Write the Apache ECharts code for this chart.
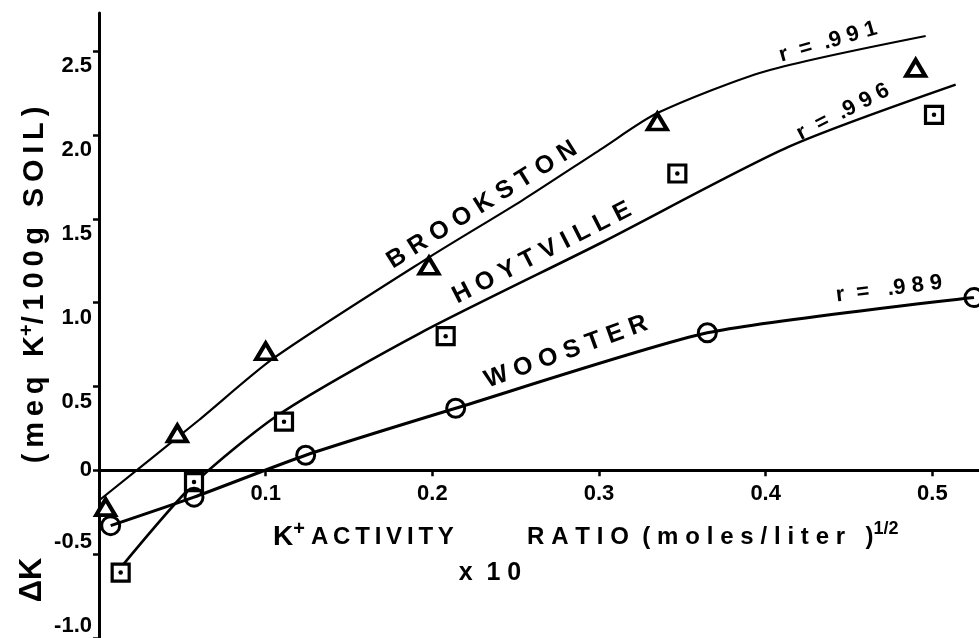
<!DOCTYPE html>
<html>
<head>
<meta charset="utf-8">
<script src="https://cdn.jsdelivr.net/npm/echarts@6/dist/echarts.min.js"></script>
<style>
    html, body { margin: 0; padding: 0; background: #fff; }
    #chart { width: 979px; height: 638px; }
</style>
</head>
<body>
<div id="chart"></div>
<script>
const brookstonX = [0.004, 0.047, 0.100, 0.198, 0.335, 0.490];
const brookstonY = [-0.22, 0.22, 0.71, 1.22, 2.08, 2.40];
const hoytvilleX = [0.013, 0.057, 0.111, 0.208, 0.347, 0.501];
const hoytvilleY = [-0.61, -0.07, 0.29, 0.80, 1.77, 2.12];
const woosterX = [0.007, 0.057, 0.124, 0.214, 0.365, 0.525];
const woosterY = [-0.33, -0.16, 0.09, 0.37, 0.82, 1.03];

// Fitted curves
const brookstonFitX = [0.0, 0.06, 0.105, 0.198, 0.254, 0.302, 0.335, 0.40, 0.496];
const brookstonFitY = [-0.18, 0.30, 0.67, 1.27, 1.61, 1.92, 2.13, 2.38, 2.59];
const hoytvilleFitX = [0.013, 0.057, 0.109, 0.193, 0.302, 0.414, 0.514];
const hoytvilleFitY = [-0.58, -0.08, 0.34, 0.82, 1.36, 1.93, 2.30];

// Ticks
const xTicks = [0.1, 0.2, 0.3, 0.4, 0.5];
const xTickLabels = ['0.1', '0.2', '0.3', '0.4', '0.5'];
const yTicks = [-1.0, -0.5, 0, 0.5, 1.0, 1.5, 2.0, 2.5];
const yTickLabels = ['-1.0', '-0.5', '0', '0.5', '1.0', '1.5', '2.0', '2.5'];

const FONT = '"Liberation Sans", Arial, sans-serif';
const Y_MIN = -1.0, Y_MAX = 2.727;
const GRID_TOP = 13, GRID_H = 625;

function pairs(xs, ys) {
    return xs.map((x, i) => [x, ys[i]]);
}

// wide letter spacing like the typed original
function spaced(s, gap) {
    return s.split('').join(gap || '\u2009');
}

function labelFor(list, labels, value) {
    const i = list.findIndex(v => Math.abs(v - value) < 1e-6);
    return i < 0 ? '' : labels[i];
}

// x axis sits on y = 0, lifted from the grid bottom
const zeroLift = GRID_H * (0 - Y_MIN) / (Y_MAX - Y_MIN);

const chart = echarts.init(document.getElementById('chart'));

const option = {
    animation: false,
    backgroundColor: '#fff',
    grid: { left: 99, right: 0, top: GRID_TOP, height: GRID_H, containLabel: false, outerBoundsMode: 'none' },
    xAxis: {
        type: 'value',
        min: 0,
        max: 0.528,
        position: 'bottom',
        offset: -zeroLift,
        axisLine: { onZero: false, lineStyle: { color: '#000', width: 3 } },
        axisTick: { show: true, customValues: xTicks, length: 6, lineStyle: { color: '#000', width: 2.5 } },
        axisLabel: {
            customValues: xTicks,
            formatter: v => labelFor(xTicks, xTickLabels, v),
            color: '#000', fontSize: 22, fontWeight: 'bold', fontFamily: FONT, margin: 13
        },
        splitLine: { show: false }
    },
    yAxis: {
        type: 'value',
        min: Y_MIN,
        max: Y_MAX,
        axisLine: { show: true, onZero: false, lineStyle: { color: '#000', width: 3 } },
        axisTick: { show: true, customValues: yTicks, length: 6, lineStyle: { color: '#000', width: 2.5 } },
        axisLabel: {
            customValues: yTicks,
            formatter: v => {
                const t = labelFor(yTicks, yTickLabels, v);
                if (v > 0.01) return '{dn|' + t + '}';
                if (v < -0.01) return '{up|' + t + '}';
                return '{mid|' + t + '}';
            },
            color: '#000', fontSize: 22, fontWeight: 'bold', fontFamily: FONT, margin: 7,
            rich: {
                dn: { fontSize: 22, fontWeight: 'bold', fontFamily: FONT, color: '#000', padding: [30, 0, 0, 0] },
                up: { fontSize: 22, fontWeight: 'bold', fontFamily: FONT, color: '#000', padding: [0, 0, 24, 0] },
                mid: { fontSize: 22, fontWeight: 'bold', fontFamily: FONT, color: '#000' }
            }
        },
        splitLine: { show: false }
    },
    series: [
        {
            name: 'Brookston fit', type: 'line', smooth: 0.25, showSymbol: false,
            data: pairs(brookstonFitX, brookstonFitY),
            lineStyle: { color: '#000', width: 2.2 }, z: 2
        },
        {
            name: 'Hoytville fit', type: 'line', smooth: 0.25, showSymbol: false,
            data: pairs(hoytvilleFitX, hoytvilleFitY),
            lineStyle: { color: '#000', width: 2.6 }, z: 2
        },
        {
            name: 'Wooster fit', type: 'line', smooth: 0.2, showSymbol: false,
            data: pairs(woosterX, woosterY),
            lineStyle: { color: '#000', width: 3 }, z: 2
        },
        {
            name: 'Brookston', type: 'scatter', symbol: 'triangle', symbolSize: [19, 16],
            data: pairs(brookstonX, brookstonY),
            itemStyle: { color: '#fff', borderColor: '#000', borderWidth: 4, opacity: 1 }, z: 5
        },
        {
            name: 'Hoytville', type: 'scatter', symbol: 'rect', symbolSize: 17,
            data: pairs(hoytvilleX, hoytvilleY),
            itemStyle: { color: '#fff', borderColor: '#000', borderWidth: 3.2, opacity: 1 }, z: 5
        },
        {
            name: 'Hoytville dot', type: 'scatter', symbol: 'circle', symbolSize: 4.5,
            data: pairs(hoytvilleX, hoytvilleY),
            itemStyle: { color: '#000', opacity: 1 }, z: 6
        },
        {
            name: 'Wooster', type: 'scatter', symbol: 'circle', symbolSize: 18,
            data: pairs(woosterX, woosterY),
            itemStyle: { color: 'rgba(255,255,255,0)', borderColor: '#000', borderWidth: 3, opacity: 1 }, z: 5
        }
    ],
    graphic: [
        // y axis title
        {
            type: 'text', x: 35, y: 285, rotation: Math.PI / 2,
            style: {
                text: '{n|' + spaced('(meq K') + '}{s|+}{n|' + spaced('/100g SOIL)') + '}',
                align: 'center', verticalAlign: 'middle', fill: '#000',
                rich: {
                    n: { fontSize: 29, fontWeight: 'bold', fontFamily: FONT, fill: '#000' },
                    s: { fontSize: 20, fontWeight: 'bold', fontFamily: FONT, fill: '#000', padding: [0, 0, 16, 0] }
                }
            }
        },
        {
            type: 'text', x: 32, y: 580, rotation: Math.PI / 2,
            style: {
                text: 'ΔK', align: 'center', verticalAlign: 'middle', fill: '#000',
                font: 'bold 31px ' + FONT
            }
        },
        // x axis title, in two pieces
        {
            type: 'text', x: 273, y: 537,
            style: {
                text: '{k|K}{s|+}{n|' + spaced('ACTIVITY') + '}',
                align: 'left', verticalAlign: 'middle', fill: '#000',
                rich: {
                    k: { fontSize: 28, fontWeight: 'bold', fontFamily: FONT, fill: '#000' },
                    n: { fontSize: 24, fontWeight: 'bold', fontFamily: FONT, fill: '#000' },
                    s: { fontSize: 20, fontWeight: 'bold', fontFamily: FONT, fill: '#000', padding: [0, 6, 16, 0] }
                }
            }
        },
        {
            type: 'text', x: 527, y: 537,
            style: {
                text: '{n|' + spaced('RATIO', '\u2009\u200A') + '  ' + spaced('(moles/liter )', '\u2009\u200A') + '}{s|1/2}',
                align: 'left', verticalAlign: 'middle', fill: '#000',
                rich: {
                    n: { fontSize: 24, fontWeight: 'bold', fontFamily: FONT, fill: '#000' },
                    s: { fontSize: 18, fontWeight: 'bold', fontFamily: FONT, fill: '#000', padding: [0, 0, 16, 0] }
                }
            }
        },
        {
            type: 'text', x: 490, y: 573,
            style: { text: 'x  1 0', align: 'center', verticalAlign: 'middle', fill: '#000', font: 'bold 25px ' + FONT }
        },
        // curve labels
        {
            type: 'text', x: 482, y: 205, rotation: 32 * Math.PI / 180,
            style: { text: spaced('BROOKSTON', '\u2009\u200A'), align: 'center', verticalAlign: 'middle', fill: '#000', font: 'bold 25px ' + FONT }
        },
        {
            type: 'text', x: 542, y: 253, rotation: 27 * Math.PI / 180,
            style: { text: spaced('HOYTVILLE', '\u2009\u200A'), align: 'center', verticalAlign: 'middle', fill: '#000', font: 'bold 25px ' + FONT }
        },
        {
            type: 'text', x: 566, y: 352, rotation: 20 * Math.PI / 180,
            style: { text: spaced('WOOSTER', '\u2009\u200A'), align: 'center', verticalAlign: 'middle', fill: '#000', font: 'bold 25px ' + FONT }
        },
        {
            type: 'text', x: 828, y: 42, rotation: 16 * Math.PI / 180,
            style: { text: 'r  =  .9 9 1', align: 'center', verticalAlign: 'middle', fill: '#000', font: 'bold 22px ' + FONT }
        },
        {
            type: 'text', x: 843, y: 112, rotation: 27 * Math.PI / 180,
            style: { text: 'r  =  .9 9 6', align: 'center', verticalAlign: 'middle', fill: '#000', font: 'bold 22px ' + FONT }
        },
        {
            type: 'text', x: 889, y: 289, rotation: 7 * Math.PI / 180,
            style: { text: 'r  =   .9 8 9', align: 'center', verticalAlign: 'middle', fill: '#000', font: 'bold 22px ' + FONT }
        }
    ]
};

chart.setOption(option);
</script>
</body>
</html>
